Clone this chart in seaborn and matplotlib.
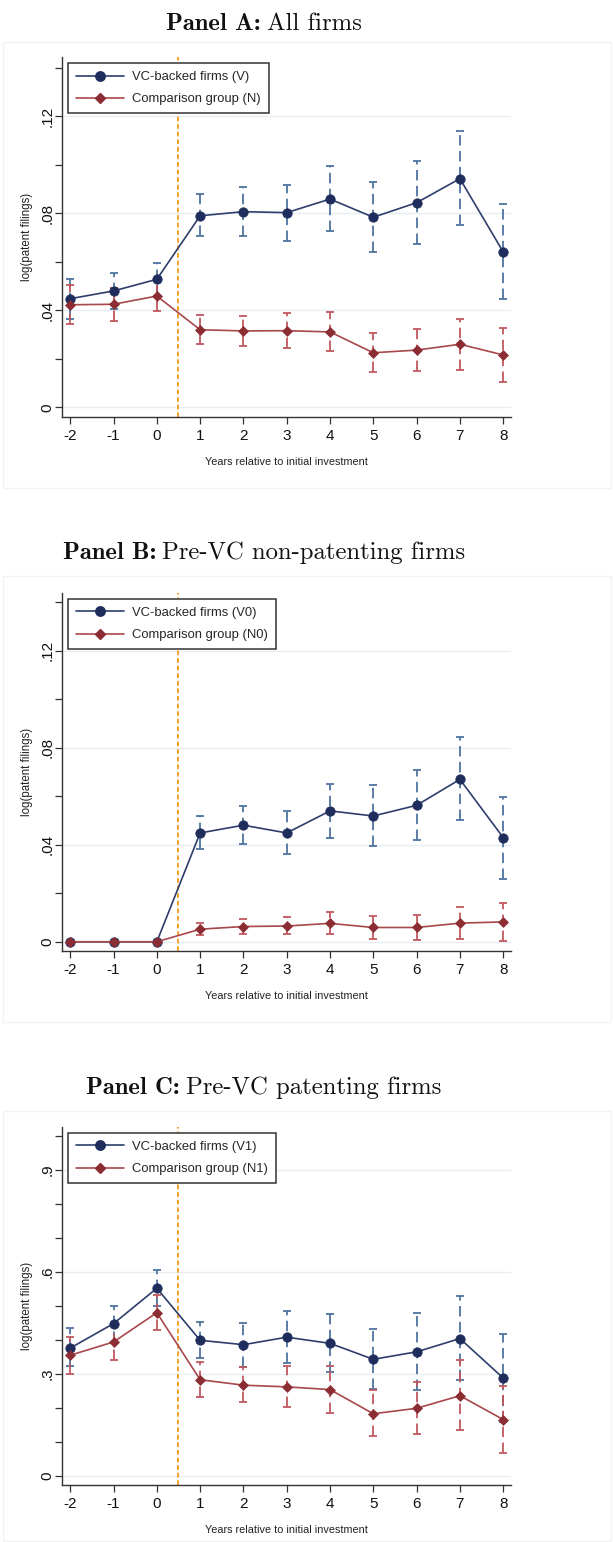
import matplotlib
matplotlib.use("Agg")
import matplotlib.pyplot as plt
import seaborn as sns
import pandas as pd
import numpy as np
from matplotlib.patches import Rectangle
from matplotlib.lines import Line2D

# ---------------- data ----------------
years = [-2, -1, 0, 1, 2, 3, 4, 5, 6, 7, 8]

# Panel A: all firms
a_v    = [0.0448, 0.0480, 0.0528, 0.0790, 0.0807, 0.0803, 0.0859, 0.0784, 0.0844, 0.0943, 0.0641]
a_v_lo = [0.0366, 0.0405, 0.0459, 0.0705, 0.0708, 0.0687, 0.0726, 0.0642, 0.0672, 0.0751, 0.0448]
a_v_hi = [0.0529, 0.0555, 0.0597, 0.0878, 0.0907, 0.0918, 0.0997, 0.0929, 0.1016, 0.1138, 0.0837]
a_n    = [0.0423, 0.0425, 0.0459, 0.0320, 0.0315, 0.0316, 0.0311, 0.0225, 0.0236, 0.0260, 0.0216]
a_n_lo = [0.0345, 0.0356, 0.0396, 0.0261, 0.0254, 0.0245, 0.0231, 0.0144, 0.0148, 0.0154, 0.0104]
a_n_hi = [0.0503, 0.0494, 0.0522, 0.0382, 0.0377, 0.0388, 0.0393, 0.0305, 0.0324, 0.0366, 0.0329]

# Panel B: pre-VC non-patenting firms
b_v    = [0.0, 0.0, 0.0, 0.0449, 0.0481, 0.0449, 0.0540, 0.0519, 0.0563, 0.0670, 0.0430]
b_v_lo = [0.0, 0.0, 0.0, 0.0382, 0.0404, 0.0363, 0.0430, 0.0395, 0.0420, 0.0501, 0.0261]
b_v_hi = [0.0, 0.0, 0.0, 0.0518, 0.0559, 0.0538, 0.0651, 0.0645, 0.0707, 0.0843, 0.0599]
b_n    = [0.0, 0.0, 0.0, 0.0052, 0.0063, 0.0065, 0.0076, 0.0059, 0.0059, 0.0077, 0.0082]
b_n_lo = [0.0, 0.0, 0.0, 0.0030, 0.0034, 0.0032, 0.0033, 0.0012, 0.0008, 0.0012, 0.0005]
b_n_hi = [0.0, 0.0, 0.0, 0.0077, 0.0093, 0.0102, 0.0121, 0.0108, 0.0111, 0.0143, 0.0161]

# Panel C: pre-VC patenting firms
c_v    = [0.376, 0.448, 0.552, 0.399, 0.386, 0.408, 0.390, 0.343, 0.365, 0.404, 0.288]
c_v_lo = [0.322, 0.395, 0.499, 0.346, 0.321, 0.332, 0.305, 0.255, 0.253, 0.281, 0.160]
c_v_hi = [0.435, 0.501, 0.606, 0.453, 0.449, 0.486, 0.476, 0.432, 0.478, 0.530, 0.416]
c_n    = [0.355, 0.394, 0.480, 0.283, 0.267, 0.262, 0.254, 0.183, 0.199, 0.236, 0.166]
c_n_lo = [0.299, 0.342, 0.429, 0.231, 0.217, 0.204, 0.186, 0.117, 0.124, 0.136, 0.068]
c_n_hi = [0.410, 0.446, 0.532, 0.334, 0.321, 0.322, 0.324, 0.253, 0.277, 0.340, 0.265]

panel_letters = ["Panel A:", "Panel B:", "Panel C:"]
panel_names = ["All firms", "Pre-VC non-patenting firms", "Pre-VC patenting firms"]
legend_v = ["VC-backed firms (V)", "VC-backed firms (V0)", "VC-backed firms (V1)"]
legend_n = ["Comparison group (N)", "Comparison group (N0)", "Comparison group (N1)"]

yticks_ab = [0, 0.04, 0.08, 0.12]
yticklabels_ab = ["0", ".04", ".08", ".12"]
yminor_ab = [0.02, 0.06, 0.10, 0.14]
yticks_c = [0, 0.3, 0.6, 0.9]
yticklabels_c = ["0", ".3", ".6", ".9"]
yminor_c = [0.1, 0.2, 0.4, 0.5, 0.7, 0.8, 1.0]

xlabel = "Years relative to initial investment"
ylabel = "log(patent filings)"

# ---------------- style ----------------
sns.set_theme(style="white")
plt.rcParams["font.family"] = ["Liberation Sans", "DejaVu Sans"]

C_V = "#1f2d5c"
C_V_LINE = "#2e3d6b"
C_V_CI = "#4d73a0"
C_N = "#8c2d33"
C_N_LINE = "#a8474c"
C_N_CI = "#c0585e"
C_GRID = "#e6edf3"
C_AX = "#333333"

W, H = 613, 1542
fig = plt.figure(figsize=(W / 100, H / 100), dpi=100)

def px_axes(left, top, right, bottom):
    return [left / W, 1 - bottom / H, (right - left) / W, (bottom - top) / H]

panels = [
    dict(v=a_v, vlo=a_v_lo, vhi=a_v_hi, n=a_n, nlo=a_n_lo, nhi=a_n_hi,
         top=57, bottom=417, ylim=(-0.0040, 0.1445), yt=yticks_ab, ytl=yticklabels_ab, ym=yminor_ab,
         title_y=24, region=(3, 42, 611, 488)),
    dict(v=b_v, vlo=b_v_lo, vhi=b_v_hi, n=b_n, nlo=b_n_lo, nhi=b_n_hi,
         top=593, bottom=951, ylim=(-0.0038, 0.1439), yt=yticks_ab, ytl=yticklabels_ab, ym=yminor_ab,
         title_y=553, region=(3, 576, 611, 1022)),
    dict(v=c_v, vlo=c_v_lo, vhi=c_v_hi, n=c_n, nlo=c_n_lo, nhi=c_n_hi,
         top=1127, bottom=1485, ylim=(-0.0265, 1.026), yt=yticks_c, ytl=yticklabels_c, ym=yminor_c,
         title_y=1088, region=(3, 1111, 611, 1541)),
]

title_texts = []
for i, p in enumerate(panels):
    # faint graph-region outline
    rl, rt, rr, rb = p["region"]
    fig.patches.append(Rectangle((rl / W, 1 - rb / H), (rr - rl) / W, (rb - rt) / H,
                                 transform=fig.transFigure, fill=False,
                                 edgecolor="#f1f3f5", linewidth=1.0, zorder=0))

    ax = fig.add_axes(px_axes(62, p["top"], 511, p["bottom"]))
    ax.set_facecolor("white")

    df = pd.DataFrame({
        "year": years * 2,
        "value": p["v"] + p["n"],
        "group": [legend_v[i]] * len(years) + [legend_n[i]] * len(years),
    })

    # confidence intervals (dashed capped bars)
    for vals, lo, hi, col in [(p["v"], p["vlo"], p["vhi"], C_V_CI),
                              (p["n"], p["nlo"], p["nhi"], C_N_CI)]:
        vals = np.array(vals); lo = np.array(lo); hi = np.array(hi)
        mask = (hi - lo) > 1e-9
        yrs = np.array(years)[mask]
        eb = ax.errorbar(yrs, vals[mask], yerr=[vals[mask] - lo[mask], hi[mask] - vals[mask]],
                         fmt="none", ecolor=col, elinewidth=1.3, capsize=2.8, capthick=1.3, zorder=2)
        for lc in eb[2]:
            lc.set_linestyle((0, (5.8, 3.0)))

    sns.lineplot(data=df, x="year", y="value", hue="group", style="group",
                 hue_order=[legend_v[i], legend_n[i]],
                 palette={legend_v[i]: C_V_LINE, legend_n[i]: C_N_LINE},
                 markers={legend_v[i]: "o", legend_n[i]: "D"},
                 dashes=False, linewidth=1.2, ax=ax, legend=False, zorder=3)
    for ln, mc, ms in zip(ax.get_lines()[-2:], [C_V, C_N], [6.8, 5.3]):
        ln.set_markerfacecolor(mc)
        ln.set_markeredgecolor(mc)
        ln.set_markersize(ms)
        ln.set_markeredgewidth(0.5)

    ax.axvline(0.5, color="#f39a1c", linestyle=(0, (2.6, 1.6)), linewidth=1.3, zorder=1)

    ax.set_xlim(-2.19, 8.18)
    ax.set_ylim(*p["ylim"])
    ax.set_xticks(years)
    ax.set_xticklabels([str(y) for y in years], fontsize=11)
    ax.set_yticks(p["yt"])
    ax.set_yticklabels(p["ytl"], fontsize=11, rotation=90, va="center")
    ax.set_yticks(p["ym"], minor=True)
    for yv in p["yt"]:
        ax.axhline(yv, color=C_GRID, linewidth=1.0, zorder=0)
    ax.grid(False)

    for s in ["top", "right"]:
        ax.spines[s].set_visible(False)
    for s in ["left", "bottom"]:
        ax.spines[s].set_color(C_AX)
        ax.spines[s].set_linewidth(1.0)
    ax.tick_params(axis="both", which="both", direction="out", length=5, width=0.9,
                   color=C_AX, labelcolor="#111111", left=True, bottom=True)
    ax.tick_params(axis="x", pad=4)
    ax.tick_params(axis="y", pad=0.5)

    ax.set_xlabel(xlabel, fontsize=7.8, color="#222222", labelpad=10)
    ax.set_ylabel(ylabel, fontsize=8.3, color="#222222", labelpad=5)

    handles = [Line2D([0], [0], color=C_V_LINE, lw=1.2, marker="o", markersize=6.8,
                      markerfacecolor=C_V, markeredgecolor=C_V),
               Line2D([0], [0], color=C_N_LINE, lw=1.2, marker="D", markersize=5.0,
                      markerfacecolor=C_N, markeredgecolor=C_N)]
    leg = ax.legend(handles, [legend_v[i], legend_n[i]], loc="upper left",
                    bbox_to_anchor=(0.0127, 0.983), fontsize=9.4, frameon=True,
                    fancybox=False, framealpha=1, edgecolor="#333333",
                    handlelength=3.7, handletextpad=0.65, borderpad=0.6,
                    labelspacing=0.78, borderaxespad=0)
    leg.get_frame().set_linewidth(1.1)
    leg.set_zorder(5)

    # title: bold "Panel X:" + regular name, Computer Modern
    t1 = fig.text(0, 1 - p["title_y"] / H, panel_letters[i], fontfamily="cmb10",
                  fontsize=17.8, va="center", ha="left", color="#111111")
    t2 = fig.text(0, 1 - p["title_y"] / H, panel_names[i], fontfamily="cmr10",
                  fontsize=17.8, va="center", ha="left", color="#111111")
    title_texts.append((t1, t2))

fig.canvas.draw()
renderer = fig.canvas.get_renderer()
cx = 264
gap = 6
for t1, t2 in title_texts:
    w1 = t1.get_window_extent(renderer).width
    w2 = t2.get_window_extent(renderer).width
    start = cx - (w1 + gap + w2) / 2
    t1.set_x(start / W)
    t2.set_x((start + w1 + gap) / W)

fig.savefig("out.png", dpi=100, facecolor="white")
